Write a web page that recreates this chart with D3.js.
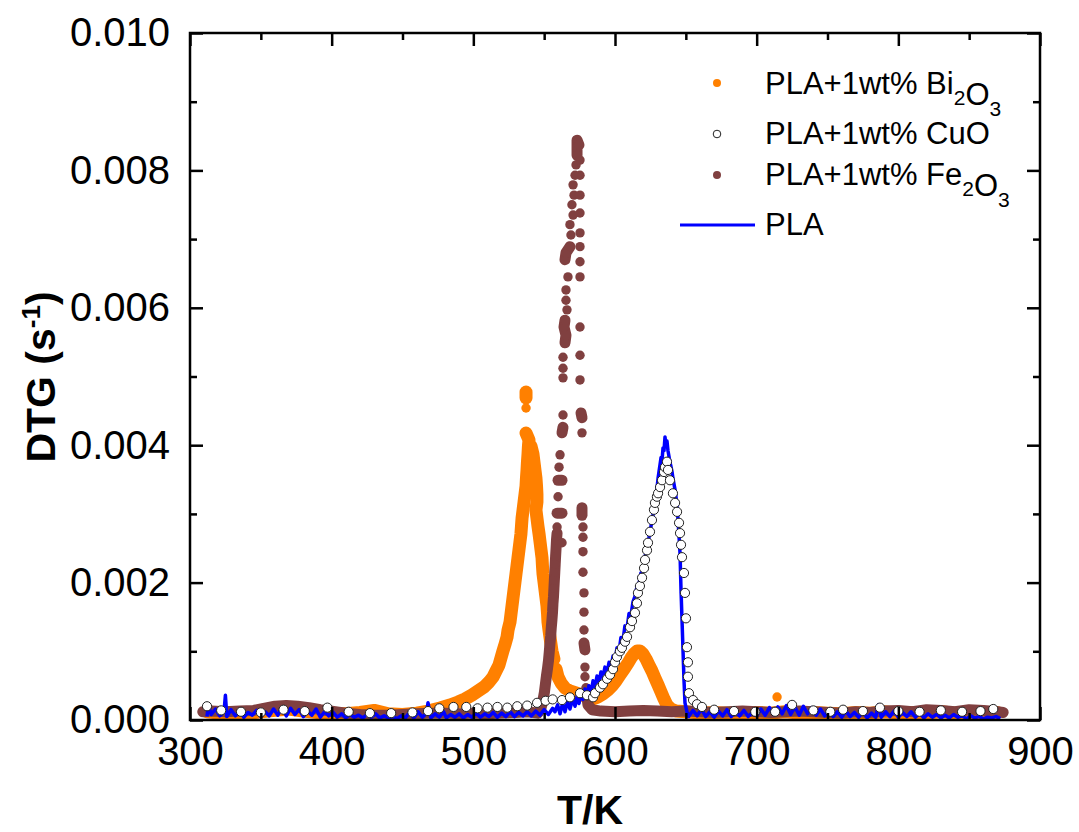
<!DOCTYPE html>
<html>
<head>
<meta charset="utf-8">
<script src="https://cdn.jsdelivr.net/npm/d3@7"></script>
<style>
  body { margin: 0; background: #fff; }
  svg text { font-family: "Liberation Sans", Arial, sans-serif; }
</style>
</head>
<body>
<div id="chart"></div>
<script>
// Axis ticks
const xTicks = [300, 400, 500, 600, 700, 800, 900];
const xMinor = [350, 450, 550, 650, 750, 850];
const yTicks = [0, 0.002, 0.004, 0.006, 0.008, 0.010];
const yMinor = [0.001, 0.003, 0.005, 0.007, 0.009];

// PLA+1wt% Bi2O3 (orange dots) [T, DTG]
const biData = [
  [312,.00012],[320,.0001],[330,.00011],[340,.00009],[350,.00012],[360,.00014],[370,.00016],[380,.00013],[390,.00011],[400,.0001],
  [410,.00009],[420,.00011],[430,.00014],[440,.00009],[450,.00008],[460,.0001],[468,.00013],
  [476.5,.000175],[483.5,.000218],[489.2,.000262],[494.1,.000306],[499.1,.000364],[503.3,.000422],[507.5,.00048],[511.1,.000553],
  [513.9,.000626],[516.0,.000713],[518.1,.0008],[519.5,.000902],[520.9,.001004],[522.4,.001106],[523.8,.001208],[524.5,.00131],
  [525.9,.001426],[526.6,.001543],[527.3,.001659],[528.0,.001776],[528.7,.001892],[529.4,.002009],[530.1,.002125],[530.8,.002242],
  [531.5,.002358],[532.2,.002475],[532.9,.002591],[533.6,.002707],[534.0,.002824],[534.4,.00294],[535.1,.003057],[535.8,.003173],
  [536.5,.00329],[537.2,.003406],[537.5,.003523],[537.9,.003639],[538.2,.003755],[538.6,.003872],[538.9,.003988],[539.3,.004076],
  [537.2,.004178],[537.2,.004541],[537.2,.004687],[537.2,.004774],
  [540.7,.003988],[542.1,.003872],[542.8,.003755],[543.5,.003639],[544.2,.003523],[544.6,.003406],[544.9,.00329],[544.9,.003173],
  [544.2,.003057],[544.9,.00294],[545.6,.002824],[546.4,.002707],[547.1,.002591],[547.8,.002475],[548.5,.002358],[548.8,.002242],
  [549.2,.002125],[549.9,.002009],[550.6,.001892],[551.3,.001776],[552.0,.001659],[552.4,.001543],[552.7,.001426],[553.4,.00131],
  [554.1,.001208],[554.8,.001106],[555.5,.001004],[556.9,.000888],[558.4,.000742],[559.8,.000626],[561.9,.000539],[564.7,.000466],
  [568.2,.000422],[572.5,.000393],[576.7,.000364],[580.9,.000335],[584.5,.000306],
  [588.0,.000335],[591.5,.000378],[595.1,.000437],[597.9,.000495],[600.7,.000568],[603.5,.000655],[606.4,.000742],[609.2,.00083],
  [611.3,.000903],[613.4,.000961],[615.5,.001004],[617.6,.001004],[619.8,.000961],[621.9,.000888],[624.0,.0008],[626.1,.000713],
  [628.2,.000611],[630.4,.00051],[632.5,.000408],[634.6,.000306],[636.7,.000218],[639.5,.00016],[643.1,.000131],
  [650,.00012],[660,.0001],[670,.00011],[680,.0001],[690,.00009],[700,.00011],[710,.0001],[720,.00012],[730,.0001],[740,.00011],
  [750,.0001],[760,.00009],[770,.00011],[780,.0001],[790,.00012],[800,.0001],[810,.00011],[820,.0001],[830,.00012],[840,.0001],
  [850,.00011],[860,.0001],[870,.00011],
  [714.4,.000335]
];

// PLA+1wt% Fe2O3 (brown dots)
const feData = [
  [309,.00012],[315,.00013],[325,.00012],[335,.00013],[345,.00014],[352,.00017],[360,.0002],[368,.00021],[376,.0002],[384,.00018],
  [392,.00015],[400,.00013],[410,.0001],[420,.00008],[430,.00007],[440,.00007],[450,.00008],[460,.00009],[470,.0001],[480,.0001],
  [490,.00009],[500,.0001],[510,.00009],[520,.0001],[530,.00011],[538,.00012],
  [545.6,.0001],[547.8,.000175],[549.2,.000291],[550.2,.000408],[550.9,.000524],[551.6,.00064],[552.4,.000757],[553.1,.000873],
  [553.6,.00099],[554.1,.00111],[554.6,.00122],[555.0,.00134],[555.5,.00146],[555.9,.00157],[556.2,.00169],[556.6,.0018],
  [556.9,.00192],[557.2,.00204],[557.5,.00215],[557.8,.00227],[558.1,.00239],[558.4,.0025],[558.7,.00262],[559.1,.00272],
  [562.6,.00258],[559.1,.00281],[559.1,.00301],[562.6,.00301],[559.8,.00325],[559.8,.00349],[562.6,.00349],[560.5,.00368],
  [561.2,.00386],[562.6,.00418],[563.3,.00426],[563.3,.00444],[563.3,.00498],[563.3,.00512],[563.3,.00528],[564.7,.00549],
  [565.4,.0056],[564.0,.00572],[564.7,.00582],[566.1,.00597],[565.4,.00611],[565.4,.00626],[566.8,.00645],[564.7,.0067],
  [565.4,.0068],[568.2,.00689],[568.9,.00706],[568.2,.00721],[570.4,.00735],[569.6,.0075],[571.1,.00764],[570.4,.00779],
  [571.8,.00793],[572.5,.00808],[573.2,.00822],[573.2,.00834],[573.2,.00844],
  [574.6,.00837],[575.3,.00815],[575.3,.00793],[575.3,.00764],[575.3,.00738],[575.3,.00709],[575.3,.00689],[575.3,.00667],
  [575.3,.00645],[575.3,.00572],[575.3,.00531],[575.3,.00495],[576.0,.00447],[576.7,.0044],[576.7,.00418],[576.7,.00309],
  [576.7,.00298],[577.4,.00281],[577.4,.00266],[577.4,.00245],[577.4,.00215],[578.1,.00185],[578.1,.00157],[578.1,.00131],
  [578.1,.00112],[578.8,.00102],[578.8,.00077],[578.8,.00063],[579.5,.00047],[580.2,.00033],[580.9,.00022],[583.8,.00015],
  [590,.00013],[600,.00012],[610,.00013],[620,.00014],[630,.00013],[640,.00012],[650,.00013],[660,.00012],[670,.00011],[680,.00012],
  [690,.00013],[700,.00012],[710,.00011],[720,.00012],[730,.00013],[740,.00012],[750,.00011],[760,.0001],[770,.00012],[780,.00011],
  [790,.00013],[800,.00014],[810,.00012],[820,.00015],[830,.00014],[840,.00012],[850,.00015],[860,.00014],[870,.00012],[874,.00011]
];

// PLA+1wt% CuO (open circles)
const cuoData = [
  [312,.0002],[322,.00014],[336,.00012],[350,.00011],[366,.00015],[381,.00013],[397,.00018],[412,.00012],[427,.0001],[442,.0001],
  [457,.00011],[468,.00013],[476,.00017],[486,.00019],[495,.00019],[503,.00017],[510,.00018],[517,.00019],[524,.00018],[531,.0002],
  [538,.00021],[545,.00025],[551,.00028],[556,.0003],
  [562.6,.00029],[568.2,.00033],[575.3,.00039],[580.2,.00036],[584.5,.00033],[585.9,.00039],[589.4,.00047],[591.5,.00052],
  [594.4,.0006],[596.5,.00066],[598.6,.00074],[600.0,.00084],[601.4,.00092],[603.5,.001],[604.9,.00105],[607.1,.00114],
  [608.5,.00121],[610.6,.00135],[612.0,.00144],[614.1,.00156],[615.5,.0017],[616.2,.00185],[617.6,.00195],[619.1,.00207],
  [620.5,.00221],[621.2,.00233],[622.6,.00247],[623.3,.00258],[624.7,.00274],[626.1,.00291],[627.5,.00306],[628.2,.00316],
  [629.6,.00325],[630.4,.0033],[631.8,.00339],[633.2,.00349],[634.6,.00361],[635.3,.00368],[636.7,.00376],
  [637.4,.00364],[638.8,.00349],[640.9,.0033],[642.4,.00316],[643.8,.00303],[645.2,.00287],[645.9,.00272],[646.6,.00255],
  [647.3,.00237],[648.7,.00214],[649.4,.00185],[650.1,.00148],[650.8,.00106],[651.5,.00084],[651.5,.00063],[652.2,.00039],
  [655.1,.00029],[657.9,.00023],[661.4,.00019],
  [670,.00015],[684,.00013],[699,.00012],[713,.00012],[725,.00022],[740,.00014],[752,.00012],[761,.00015],[775,.00013],[787,.00018],
  [800,.00013],[815,.00012],[830,.00014],[845,.00012],[858,.00013],[867,.00016]
];

// PLA (blue line)
const plaData = [
  [312,.00005],[313,.00022],[315,.00008],[318,.00016],[321,.00006],[324,.00012],[325,.00036],[326,.00005],[329,.00015],[332,.00006],
  [335,.00013],[338,.00004],[341,.00011],[344,.00007],[347,.00014],[350,.00005],[353,.00012],[356,.00006],[359,.00016],[362,.00007],
  [365,.00018],[368,.00006],[371,.00017],[374,.00008],[377,.00015],[380,.00005],[383,.00013],[386,.00007],[389,.00016],[392,.00004],
  [395,.00012],[398,.00006],[401,.00011],[404,.00004],[407,.00009],[410,.00003],[413,.00008],[416,.00004],[419,.00007],[422,.00003],
  [425,.00008],[428,.00004],[431,.00009],[434,.00003],[437,.00006],[440,.00003],[443,.00005],[446,.00002],[449,.00006],[452,.00003],
  [455,.00011],[458,.00003],[461,.00012],[464,.00004],[467,.0001],[468,.00025],[470,.00003],[473,.00009],[476,.00004],[479,.00012],
  [481,.00003],[484,.00008],[487,.00004],[490,.00009],[493,.00003],[496,.00008],[499,.00004],[502,.0001],[505,.00004],[508,.00009],
  [511,.00005],[514,.00011],[517,.00004],[520,.0001],[523,.00005],[526,.00012],[529,.00005],[532,.00011],[535,.00006],[538,.00012],
  [541,.00006],[544,.00013],[547,.00007],[550,.00015],[553,.00008],[556,.00017],
  [557.6,.00012],[559.5,.00022],[561.2,.00009],[563,.00024],[564.7,.00012],[566.5,.00027],[568.2,.00016],[570,.0003],[571.8,.0002],
  [573.2,.00034],[574.6,.00024],[576,.00038],[577.4,.0003],[578.8,.00045],[580.2,.00035],[581.6,.0005],[583.1,.0004],[584.5,.00057],
  [585.9,.00048],[587.3,.00064],[588.7,.00055],[590.1,.0007],[591.5,.00062],[592.9,.00077],[594.4,.00069],[595.8,.00084],
  [597.2,.00076],[598.6,.00093],[600,.00086],[601.4,.00105],[602.8,.00099],[604.2,.0012],[605.6,.00115],[607,.00137],[608.5,.00134],
  [609.9,.00155],[611.3,.00153],[612.7,.00172],[614.1,.0018],[615.5,.00194],[616.9,.00198],[618.3,.00214],[619.8,.00218],
  [621.2,.00238],[622.6,.00252],[624,.00266],[625.4,.00282],[626.8,.00298],[628.2,.00318],[629.6,.00336],[630.4,.00352],
  [631.1,.00362],[631.8,.00372],[632.5,.00382],[633.2,.00378],[633.9,.00396],[634.6,.00392],[635.3,.00412],[636,.00398],
  [636.7,.00406],[637.4,.00392],[638.1,.00384],[638.8,.00375],[639.5,.00369],[640.2,.00362],[640.9,.00352],[641.6,.00344],
  [642.4,.00335],[643.1,.00324],[643.8,.00313],[644.5,.00291],[645.2,.00268],[645.9,.00243],[646.6,.00189],[647.3,.00146],
  [648,.00102],[648.7,.00058],[649.4,.00025],[650.8,.00012],
  [652,.00005],[655,.00014],[658,.00006],[661,.00016],[664,.00005],[667,.00012],[670,.00004],[673,.00013],[676,.00006],[679,.00015],
  [682,.00005],[685,.00012],[688,.00006],[691,.00014],[694,.00005],[697,.00011],[700,.00006],[703,.00016],[706,.00007],[709,.00018],
  [712,.00008],[715,.00019],[718,.00009],[721,.00021],[724,.00008],[727,.00019],[730,.00007],[733,.0002],[736,.00009],[739,.00018],
  [742,.00007],[745,.00016],[748,.00006],[751,.00014],[754,.00005],[757,.00012],[760,.00004],[763,.00013],[766,.00005],[769,.00011],
  [772,.00004],[775,.00012],[778,.00003],[781,.0001],[784,.00004],[786,.00022],[788,.00004],[791,.00012],[794,.00005],[797,.00013],
  [800,.00004],[803,.00011],[806,.00005],[809,.00012],[812,.00004],[815,.0001],[818,.00003],[821,.00009],[824,.00004],[827,.00008],
  [830,.00003],[833,.00007],[836,.00003],[839,.00008],[842,.00004],[845,.00006],[848,.00002],[851,.00006],[854,.00003],[857,.00005],
  [860,.00002],[863,.00004],[866,.00003],[869,.00005],[872,.00002]
];

const width = 1079, height = 832;
const plot = {left: 190, right: 1040, top: 33, bottom: 720};

const svg = d3.select('#chart').append('svg')
    .attr('width', width)
    .attr('height', height);

const x = d3.scaleLinear().domain([300, 900]).range([plot.left, plot.right]);
const y = d3.scaleLinear().domain([0, 0.010]).range([plot.bottom, plot.top]);

// split a dot series into runs of close points so dense parts read as a band
function splitRuns(data, maxDx, maxDy) {
    const runs = [];
    let run = [];
    data.forEach(d => {
        const p = [x(d[0]), y(d[1])];
        const q = run[run.length - 1];
        if (q && (Math.abs(p[0] - q[0]) > maxDx || Math.abs(p[1] - q[1]) > maxDy)) {
            runs.push(run);
            run = [];
        }
        run.push(p);
    });
    runs.push(run);
    return runs.filter(r => r.length > 1);
}

function drawDots(data, color, bandWidth) {
    const g = svg.append('g');
    g.selectAll('path')
        .data(splitRuns(data, 16, 9))
        .enter()
        .append('path')
        .attr('d', d3.line())
        .attr('fill', 'none')
        .attr('stroke', color)
        .attr('stroke-width', bandWidth)
        .attr('stroke-linecap', 'round')
        .attr('stroke-linejoin', 'round');
    g.selectAll('circle')
        .data(data)
        .enter()
        .append('circle')
        .attr('cx', d => x(d[0]))
        .attr('cy', d => y(d[1]))
        .attr('r', 4.7)
        .attr('fill', color);
}

drawDots(biData, '#ff8000', 13);
drawDots(feData, '#804040', 11);

// PLA line
svg.append('path')
    .datum(plaData)
    .attr('d', d3.line().x(d => x(d[0])).y(d => y(d[1])))
    .attr('fill', 'none')
    .attr('stroke', '#0000ff')
    .attr('stroke-width', 3.5)
    .attr('stroke-linejoin', 'round');

// CuO open circles
svg.append('g')
    .selectAll('circle')
    .data(cuoData)
    .enter()
    .append('circle')
    .attr('cx', d => x(d[0]))
    .attr('cy', d => y(d[1]))
    .attr('r', 4.6)
    .attr('fill', '#fff')
    .attr('stroke', '#222')
    .attr('stroke-width', 1);

// axes, ticks pointing inward
function addAxis(axis, transform) {
    const g = svg.append('g')
        .attr('transform', transform)
        .call(axis);
    g.select('.domain').remove();
    g.selectAll('line').attr('stroke', '#000').attr('stroke-width', 2.5);
    return g;
}

const bottom = addAxis(d3.axisBottom(x).tickValues(xTicks).tickSize(-13).tickPadding(17).tickFormat(d3.format('d')),
    `translate(0,${plot.bottom})`);
addAxis(d3.axisBottom(x).tickValues(xMinor).tickSize(-7).tickFormat(''), `translate(0,${plot.bottom})`);
addAxis(d3.axisTop(x).tickValues(xTicks).tickSize(-13).tickFormat(''), `translate(0,${plot.top})`);
addAxis(d3.axisTop(x).tickValues(xMinor).tickSize(-7).tickFormat(''), `translate(0,${plot.top})`);

const left = addAxis(d3.axisLeft(y).tickValues(yTicks).tickSize(-13).tickPadding(20).tickFormat(d3.format('.3f')),
    `translate(${plot.left},0)`);
addAxis(d3.axisLeft(y).tickValues(yMinor).tickSize(-7).tickFormat(''), `translate(${plot.left},0)`);
addAxis(d3.axisRight(y).tickValues(yTicks).tickSize(-13).tickFormat(''), `translate(${plot.right},0)`);
addAxis(d3.axisRight(y).tickValues(yMinor).tickSize(-7).tickFormat(''), `translate(${plot.right},0)`);

[bottom, left].forEach(g => g.selectAll('text')
    .attr('fill', '#000')
    .style('font-size', '40px')
    .style('font-family', '"Liberation Sans", Arial, sans-serif'));

svg.append('rect')
    .attr('x', plot.left)
    .attr('y', plot.top)
    .attr('width', plot.right - plot.left)
    .attr('height', plot.bottom - plot.top)
    .attr('fill', 'none')
    .attr('stroke', '#000')
    .attr('stroke-width', 2.5);

// axis titles
svg.append('text')
    .attr('x', 590)
    .attr('y', 824)
    .attr('text-anchor', 'middle')
    .style('font-size', '41px')
    .style('font-weight', 'bold')
    .text('T/K');

const yTitle = svg.append('text')
    .attr('transform', 'translate(55,377) rotate(-90)')
    .attr('text-anchor', 'middle')
    .style('font-size', '41px')
    .style('font-weight', 'bold');
yTitle.append('tspan').text('DTG (s');
yTitle.append('tspan').attr('dy', -15).style('font-size', '26px').text('-1');
yTitle.append('tspan').attr('dy', 15).text(')');

// legend
const legend = svg.append('g').style('font-size', '31px');

function legendLabel(ty, parts) {
    const t = legend.append('text').attr('x', 765).attr('y', ty);
    parts.forEach(p => {
        if (p.sub) {
            t.append('tspan').attr('dy', 11).style('font-size', '21px').text(p.sub);
            t.append('tspan').attr('dy', -11).text('');
        } else {
            t.append('tspan').text(p.t);
        }
    });
}

legend.append('circle').attr('cx', 717).attr('cy', 83).attr('r', 4).attr('fill', '#ff8000');
legendLabel(94, [{t: 'PLA+1wt% Bi'}, {sub: '2'}, {t: 'O'}, {sub: '3'}]);

legend.append('circle').attr('cx', 717).attr('cy', 134).attr('r', 3.8)
    .attr('fill', '#fff').attr('stroke', '#222').attr('stroke-width', 1);
legendLabel(144, [{t: 'PLA+1wt% CuO'}]);

legend.append('circle').attr('cx', 717).attr('cy', 175).attr('r', 4).attr('fill', '#804040');
legendLabel(185, [{t: 'PLA+1wt% Fe'}, {sub: '2'}, {t: 'O'}, {sub: '3'}]);

legend.append('line').attr('x1', 680).attr('x2', 755).attr('y1', 225).attr('y2', 225)
    .attr('stroke', '#0000ff').attr('stroke-width', 3);
legendLabel(235, [{t: 'PLA'}]);
</script>
</body>
</html>
